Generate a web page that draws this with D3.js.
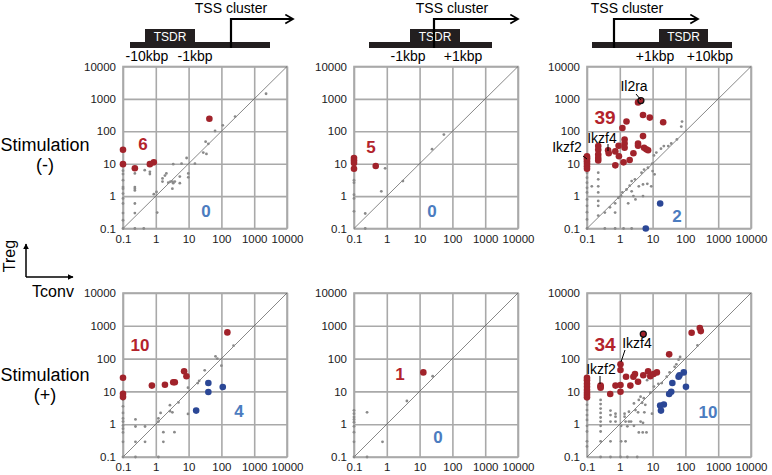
<!DOCTYPE html>
<html>
<head>
<meta charset="utf-8">
<script src="https://cdn.jsdelivr.net/npm/d3@7"></script>
<style>
  body { margin: 0; background: #fff; }
  svg { font-family: "Liberation Sans", Arial, sans-serif; }
</style>
</head>
<body>
<svg width="772" height="475"></svg>
<script>
// values: [Tconv, Treg]
var upMinusGrey = [[2300,1440],[262,285],[110,153],[64,102],[33,48],[40,41],[28,22],[35,20],[15.6,10],[8.7,15],[6.1,10],[3.4,9.7],[2.1,5],[1.9,4.3],[1.6,3.5],[1.6,2.8],[2.4,2.6],[2.8,2.8],[3.2,2.8],[3.4,2.5],[3.8,2.8],[3.2,1.7],[5.4,4],[5.4,2.5],[9.8,5],[9.8,3.8],[1.05,1.35],[0.87,1.15],[1.1,0.31],[0.46,6.3],[0.66,5.6],[0.66,4.8],[0.23,5],[0.23,1.9],[0.23,1.7],[0.23,1.5],[0.23,0.59],[0.23,0.3],[0.23,0.1],[0.43,0.1],[0.1,6.1],[0.1,4.8],[0.1,3.1],[0.1,1.9],[0.1,1.7],[0.1,1.2],[0.1,0.85],[0.1,0.59],[0.1,0.3],[0.1,0.18],[0.1,0.1]];
var upMinusRed = [[0.1,27],[0.1,9.7],[0.23,7.2],[0.66,9.7],[0.87,11],[43,245]];
var upMinusBlue = [];

var midMinusGrey = [[55,79],[24,28],[3.1,2.9],[0.89,7.2],[0.68,1.4],[0.22,0.29],[0.22,0.1],[0.1,3.1],[0.1,2.6],[0.1,1.1],[0.1,0.85],[0.1,0.34]];
var midMinusRed = [[0.1,15],[0.1,12.5],[0.1,10.5],[0.1,7],[0.46,8.5]];
var midMinusBlue = [];

var downMinusGrey = [[79,200],[75,140],[55,56],[37,42],[30,35],[22,35],[18,29],[13,22],[11,18],[9.8,10],[7.2,7.5],[5.5,6.6],[4.6,5.3],[10,5.9],[11.5,4.7],[2.9,3.3],[2.3,2.9],[2.0,2.1],[1.6,1.6],[1.2,1.3],[1.1,1.0],[0.91,0.89],[2.3,1.4],[2.6,1.0],[3.0,0.79],[3.8,2.0],[5.1,2.3],[6.9,2.4],[9.1,2.0],[0.72,0.6],[0.5,0.45],[0.35,0.31],[0.22,5.3],[0.22,3.3],[0.22,2.0],[0.22,1.3],[0.22,0.71],[0.22,0.5],[0.22,0.25],[0.35,0.1],[0.72,0.1],[1.3,0.1],[2.3,0.1],[0.1,5.3],[0.1,3.7],[0.1,2.6],[0.1,1.8],[0.1,1.3],[0.1,0.79],[0.1,0.5],[0.1,0.32],[0.1,0.19],[0.1,0.1],[0.14,2.0],[1.8,0.6],[5.1,1.0],[0.72,0.31]];
var downMinusRed = [[3.6,780],[5.1,320],[8.2,265],[21,190],[1.6,200],[1.2,127],[5.1,71],[3.6,42],[1.4,42],[1.4,31],[0.92,36],[5.5,31],[6.4,28],[7.3,26],[0.22,35],[0.22,27],[0.22,19],[0.22,12.6],[0.44,26],[0.46,21],[0.73,24],[0.73,8.9],[0.94,17],[1.3,11],[2.0,13],[2.6,21],[1.4,56],[0.1,17],[0.1,14],[0.1,12],[0.1,10.2],[0.1,8.4],[0.1,7],[0.1,15],[0.22,15],[3.6,36]];
var downMinusBlue = [[17,0.59],[6.2,0.1]];
var downMinusRing = [[4.4,890]];

var upPlusGrey = [[235,247],[66,117],[75,100],[100,61],[31,44],[21,21],[19,18],[9.6,13],[9.6,2.05],[4.9,4.6],[2.7,3.8],[2.7,2.5],[3.2,2.3],[1.4,2.2],[1.2,1.2],[1.2,1.5],[1.7,0.57],[1.7,0.29],[3.7,0.57],[1.2,0.1],[0.24,1.4],[0.24,0.85],[0.24,0.29],[0.24,0.1],[0.47,0.85],[0.47,0.29],[0.1,5.6],[0.1,3.5],[0.1,2.2],[0.1,1.5],[0.1,1.2],[0.1,0.92],[0.1,0.73],[0.1,0.56],[0.1,0.29],[0.1,0.1]];
var upPlusRed = [[0.1,26],[0.1,8.5],[0.1,6.8],[0.76,15],[1.9,16],[3.4,19],[3.8,19],[7.3,41],[8.6,29],[152,630]];
var upPlusBlue = [[40,18],[40,9.6],[110,13.6],[17,2.6]];

var midPlusGrey = [[25,29],[4.1,5.1],[0.25,2.3],[0.74,0.29],[0.25,0.1],[0.1,2.65],[0.1,2.1],[0.1,1.65],[0.1,1.4],[0.1,1.15],[0.1,0.86],[0.1,0.57],[0.1,0.29],[0.1,0.1]];
var midPlusRed = [[13,38]];
var midPlusBlue = [];

var downPlusGrey = [[234,253],[69,112],[62,93],[53,67],[47,56],[33,38],[27,28],[19,18],[15,17],[11,14],[6.8,22],[8.5,9.1],[4.3,6.9],[5.4,6.2],[3.8,5.5],[4.8,4.5],[6.0,3.9],[2.7,4.3],[3.0,2.7],[3.6,2.3],[5.6,2.3],[9.6,2.1],[1.9,2.4],[2.2,1.2],[1.9,1.2],[1.5,1.2],[1.4,2.1],[1.4,1.7],[0.74,2.1],[0.74,1.7],[0.74,1.2],[0.52,2.6],[0.52,1.9],[0.52,1.2],[0.52,0.3],[1.1,0.89],[1.1,0.3],[1.5,0.3],[1.7,0.86],[2.7,0.89],[3.8,0.56],[5.0,0.56],[6.5,0.56],[5.1,1.1],[4.3,1.2],[0.26,5.5],[0.26,4.1],[0.26,3.0],[0.26,2.2],[0.26,1.6],[0.26,1.2],[0.26,0.89],[0.26,0.6],[0.26,0.3],[0.26,0.1],[0.52,0.1],[1.7,0.1],[3.4,0.1],[1.05,0.1],[0.1,5.5],[0.1,3.9],[0.1,2.7],[0.1,1.9],[0.1,1.35],[0.1,0.89],[0.1,0.6],[0.1,0.3],[0.1,0.21]];
var downPlusRed = [[155,615],[275,850],[295,690],[32,135],[1.05,67],[1.05,45],[1.05,15.6],[1.05,9.8],[0.74,15],[0.51,8.3],[0.26,15],[0.26,13],[1.55,28],[2.1,15],[2.6,28],[2.9,34],[3.6,19.6],[5.2,31],[7.3,41],[8.5,29],[10.7,34],[13.5,38],[0.1,26],[0.1,22],[0.1,17],[0.1,13.8],[0.1,11],[0.1,9.1],[0.1,7.7],[0.1,6.6],[0.26,14]];
var downPlusBlue = [[89,38],[66,31],[62,28],[104,13.8],[40,18],[37,9.8],[32,8.3],[22,4.0],[17,3.7],[18,2.6]];
var downPlusRing = [[5.2,560]];

var redCounts = ["6", "5", "39", "10", "1", "34"];
var blueCounts = ["0", "0", "2", "4", "0", "10"];
var tickValues = [0.1, 1, 10, 100, 1000, 10000];
var rowLabels = ["(-)", "(+)"];

var svg = d3.select("svg");
var size = 164;
var colX = [123, 354, 587];
var rowY = [66.5, 293];
var gridColor = "#a9a9a9";
var redColor = "#a1232b", blueColor = "#2b4796", greyColor = "#8a8a8a";

var panels = [
  {c:0, r:0, grey:upMinusGrey, red:upMinusRed, blue:upMinusBlue, ring:[], rl:[20,78], bl:[83,145]},
  {c:1, r:0, grey:midMinusGrey, red:midMinusRed, blue:midMinusBlue, ring:[], rl:[17,81], bl:[78,145]},
  {c:2, r:0, grey:downMinusGrey, red:downMinusRed, blue:downMinusBlue, ring:downMinusRing, rl:[18,51], bl:[90,150], big:true},
  {c:0, r:1, grey:upPlusGrey, red:upPlusRed, blue:upPlusBlue, ring:[], rl:[17,52], bl:[116,118]},
  {c:1, r:1, grey:midPlusGrey, red:midPlusRed, blue:midPlusBlue, ring:[], rl:[46,81], bl:[84,144]},
  {c:2, r:1, grey:downPlusGrey, red:downPlusRed, blue:downPlusBlue, ring:downPlusRing, rl:[18,51], bl:[121,119], big:true}
];

var fmt = function(d) { return d < 1 ? "0.1" : d3.format("d")(d); };

panels.forEach(function(p, i) {
  var g = svg.append("g")
    .attr("transform", "translate(" + colX[p.c] + "," + rowY[p.r] + ")");
  var x = d3.scaleLog().domain([0.1, 10000]).range([0, size]);
  var y = d3.scaleLog().domain([0.1, 10000]).range([size - (p.r === 0 ? 2 : 0), 0]);
  var h = y.range()[0];

  var yAxis = d3.axisLeft(y).tickValues(tickValues).tickFormat(fmt).tickSize(-size).tickPadding(7);
  var xAxis = d3.axisBottom(x).tickValues(tickValues).tickFormat(fmt).tickSize(-h).tickPadding(6);

  g.append("g").call(yAxis);
  g.append("g").attr("transform", "translate(0," + h + ")").call(xAxis);
  g.selectAll(".domain").remove();
  g.selectAll(".tick line").attr("stroke", gridColor).attr("stroke-width", 1.6);
  g.selectAll(".tick text").attr("font-size", 11.5).attr("fill", "#1a1a1a")
    .attr("font-family", "Liberation Sans, Arial, sans-serif");

  g.append("rect").attr("width", size).attr("height", h)
    .attr("fill", "none").attr("stroke", gridColor).attr("stroke-width", 1.6);

  g.append("line")
    .attr("x1", x(0.1)).attr("y1", y(0.1))
    .attr("x2", x(10000)).attr("y2", y(10000))
    .attr("stroke", "#555").attr("stroke-width", 0.7);

  g.selectAll(".grey").data(p.grey).enter().append("circle")
    .attr("cx", function(d) { return x(d[0]); })
    .attr("cy", function(d) { return y(d[1]); })
    .attr("r", 1.4).attr("fill", greyColor);

  g.selectAll(".red").data(p.red).enter().append("circle")
    .attr("cx", function(d) { return x(d[0]); })
    .attr("cy", function(d) { return y(d[1]); })
    .attr("r", 3.3).attr("fill", redColor);

  g.selectAll(".ring").data(p.ring).enter().append("circle")
    .attr("cx", function(d) { return x(d[0]); })
    .attr("cy", function(d) { return y(d[1]); })
    .attr("r", 3).attr("fill", redColor).attr("stroke", "#111").attr("stroke-width", 1.3);

  g.selectAll(".blue").data(p.blue).enter().append("circle")
    .attr("cx", function(d) { return x(d[0]); })
    .attr("cy", function(d) { return y(d[1]); })
    .attr("r", 3.3).attr("fill", blueColor);

  g.append("text").attr("x", p.rl[0]).attr("y", p.rl[1])
    .attr("text-anchor", "middle").attr("dominant-baseline", "central")
    .attr("font-weight", "bold").attr("font-size", p.big ? 19 : 17)
    .attr("fill", "#b3232c").text(redCounts[i]);
  g.append("text").attr("x", p.bl[0]).attr("y", p.bl[1])
    .attr("text-anchor", "middle").attr("dominant-baseline", "central")
    .attr("font-weight", "bold").attr("font-size", 17)
    .attr("fill", "#4b7cc0").text(blueCounts[i]);
});

// row labels
rowLabels.forEach(function(s, r) {
  var cy = r === 0 ? 145 : 375;
  svg.append("text").attr("x", 45).attr("y", cy).attr("text-anchor", "middle")
    .attr("dominant-baseline", "central").attr("font-size", 18).text("Stimulation");
  svg.append("text").attr("x", 45).attr("y", cy + 20).attr("text-anchor", "middle")
    .attr("dominant-baseline", "central").attr("font-size", 18).text(s);
});

// Treg / Tconv arrows
var defs = svg.append("defs");
defs.append("marker").attr("id", "tri").attr("viewBox", "0 0 10 10")
  .attr("refX", 9).attr("refY", 5).attr("markerWidth", 4).attr("markerHeight", 4)
  .attr("orient", "auto").append("path").attr("d", "M0,0L10,5L0,10Z").attr("fill", "#000");
defs.append("marker").attr("id", "chev").attr("viewBox", "0 0 10 10")
  .attr("refX", 8).attr("refY", 5).attr("markerWidth", 5).attr("markerHeight", 5)
  .attr("orient", "auto").append("path").attr("d", "M1,1L8,5L1,9")
  .attr("fill", "none").attr("stroke", "#000").attr("stroke-width", 1.6);

svg.append("line").attr("x1", 26).attr("y1", 277).attr("x2", 26).attr("y2", 244)
  .attr("stroke", "#000").attr("stroke-width", 1.5).attr("marker-end", "url(#tri)");
svg.append("line").attr("x1", 26).attr("y1", 277).attr("x2", 73).attr("y2", 277)
  .attr("stroke", "#000").attr("stroke-width", 1.5).attr("marker-end", "url(#tri)");
svg.append("text").attr("transform", "translate(15,256) rotate(-90)")
  .attr("text-anchor", "middle").attr("font-size", 16).text("Treg");
svg.append("text").attr("x", 53).attr("y", 297).attr("text-anchor", "middle")
  .attr("font-size", 16).text("Tconv");

// gene schematics above each column
var headers = [
  {bar:[130,270], box:[145,195], tss:231, tip:293, title:231, labels:[[147,"-10kbp"],[195,"-1kbp"]]},
  {bar:[369,492], box:[410,460], tss:434, tip:518, title:452, labels:[[408,"-1kbp"],[463,"+1kbp"]]},
  {bar:[592,732], box:[659,708], tss:614, tip:698, title:627, labels:[[655,"+1kbp"],[710,"+10kbp"]]}
];
headers.forEach(function(h) {
  svg.append("rect").attr("x", h.bar[0]).attr("y", 42).attr("width", h.bar[1] - h.bar[0])
    .attr("height", 6).attr("fill", "#231f20");
  svg.append("rect").attr("x", h.box[0]).attr("y", 29).attr("width", h.box[1] - h.box[0])
    .attr("height", 14).attr("fill", "#231f20");
  svg.append("text").attr("x", (h.box[0] + h.box[1]) / 2).attr("y", 36.5)
    .attr("text-anchor", "middle").attr("dominant-baseline", "central")
    .attr("font-size", 12).attr("fill", "#fff").text("TSDR");
  svg.append("path").attr("d", "M" + h.tss + ",48V19H" + h.tip)
    .attr("fill", "none").attr("stroke", "#000").attr("stroke-width", 2.2)
    .attr("marker-end", "url(#chev)");
  svg.append("text").attr("x", h.title).attr("y", 13).attr("text-anchor", "middle")
    .attr("font-size", 14).text("TSS cluster");
  h.labels.forEach(function(l) {
    svg.append("text").attr("x", l[0]).attr("y", 61).attr("text-anchor", "middle")
      .attr("font-size", 14).text(l[1]);
  });
});

// gene name callouts
var callouts = [
  {t:"Il2ra", x:634, y:86, line:[636,94,641,100]},
  {t:"Ikzf4", x:602, y:138, line:[608,144,608,151]},
  {t:"Ikzf2", x:567, y:147, line:[583,156,587,159]},
  {t:"Ikzf4", x:637, y:343, line:[625,350,621,362]},
  {t:"Ikzf2", x:601, y:369, line:[600,376,600,384]}
];
callouts.forEach(function(c) {
  svg.append("text").attr("x", c.x).attr("y", c.y).attr("text-anchor", "middle")
    .attr("dominant-baseline", "central").attr("font-size", 14).text(c.t);
  svg.append("line").attr("x1", c.line[0]).attr("y1", c.line[1])
    .attr("x2", c.line[2]).attr("y2", c.line[3]).attr("stroke", "#000").attr("stroke-width", 1);
});
</script>
</body>
</html>
